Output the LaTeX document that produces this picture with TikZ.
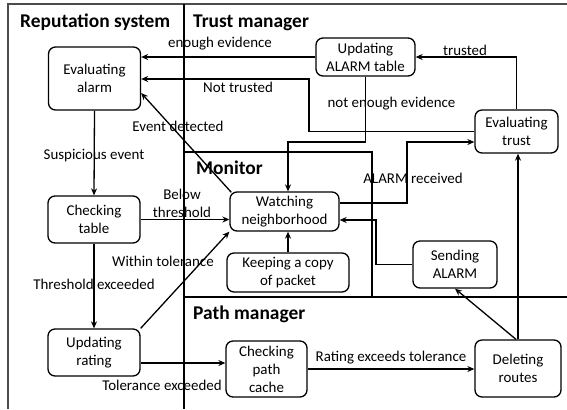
\documentclass[tikz,border=0pt]{standalone}
\usepackage{fontspec}
\setmainfont{Carlito}
\usetikzlibrary{arrows.meta,calc}
\begin{document}
\begin{tikzpicture}[x=1bp,y=-1bp,
  box/.style={draw,rounded corners=7bp,line width=1.3bp,inner sep=0pt,align=center,
    font=\fontsize{15}{18}\selectfont},
  lab/.style={inner sep=0pt,font=\fontsize{15}{18}\selectfont},
  ttl/.style={inner sep=0pt,font=\fontsize{19.5}{22}\selectfont\bfseries,anchor=base west},
  arr/.style={line width=1.3bp,-{Stealth[length=7bp,width=6bp]}},
  frame/.style={line width=1.3bp}]
\useasboundingbox (0,0) rectangle (567,409);
% frame
\draw[frame,black!70] (8,409) -- (8,4) -- (567,4);
\draw[frame] (184,4) -- (184,409);
\draw[frame] (184,152) -- (372,152) -- (372,297);
\draw[frame] (184,297) -- (567,297);
% titles
\node[ttl] (t1) at (20,27) {Reputation system};
\node[ttl] (t2) at (193,27) {Trust manager};
\node[ttl] (t3) at (196,174) {Monitor};
\node[ttl] (t4) at (193,319) {Path manager};
% nodes
\node[box,minimum width=92bp,minimum height=63bp] (evalarm) at (94.5,78.5) {Evaluating\\alarm};
\node[box,minimum width=92bp,minimum height=47bp] (chktable) at (94,219.5) {Checking\\table};
\node[box,minimum width=92bp,minimum height=47bp] (updrating) at (94,352.5) {Updating\\rating};
\node[box,minimum width=81bp,minimum height=56bp] (chkpath) at (266.5,369) {Checking\\path\\cache};
\node[box,minimum width=109bp,minimum height=39bp] (watching) at (284.5,211.5) {Watching\\neighborhood};
\node[box,minimum width=122bp,minimum height=39bp] (keeping) at (288,272.5) {Keeping a copy\\of packet};
\node[box,minimum width=99bp,minimum height=38bp] (updalarm) at (365.5,57) {Updating\\ALARM table};
\node[box,minimum width=83bp,minimum height=43bp] (evtrust) at (516.5,131.5) {Evaluating\\trust};
\node[box,minimum width=84bp,minimum height=47bp] (sendalarm) at (455,264.5) {Sending\\ALARM};
\node[box,minimum width=86bp,minimum height=57bp] (delroutes) at (518,368.5) {Deleting\\routes};
% elbow coordinates
\coordinate (nt1) at (309,131.5);
\coordinate (nt2) at (309,79);
\coordinate (ne1) at (365.5,142);
\coordinate (ne2) at (288,142);
\coordinate (ar0) at (339,203);
\coordinate (ar1) at (407,203);
\coordinate (ar2) at (407,142);
\coordinate (sa1) at (376,264.5);
\coordinate (sa2) at (376,220);
\coordinate (tol) at (140,363);
% connectors
\draw[arr] (updalarm.west) -- (evalarm.east |- updalarm.west);
\draw[arr] (evtrust.west) -- (nt1) -- (nt2) -- (evalarm.east |- nt2);
\draw[arr] (updalarm.south) -- (ne1) -- (ne2) -- (watching.north -| ne2);
\draw[arr] (evtrust.north) -- (evtrust.north |- updalarm.east) -- (updalarm.east);
\draw[arr] (watching.east |- ar0) -- (ar1) -- (ar2) -- (evtrust.west |- ar2);
\draw[arr] (sendalarm.west) -- (sa1) -- (sa2) -- (watching.east |- sa2);
\draw[arr] (delroutes.north) -- (delroutes.north |- evtrust.south);
\draw[arr] ($(delroutes.north)+(-2,0)$) -- (sendalarm.south);
\draw[arr] ($(watching.north west)+(2,1)$) -- ($(evalarm.east)+(0,14.5)$);
\draw[arr] (evalarm.south) -- (chktable.north);
\draw[arr] (chktable.east) -- (chktable.east -| watching.west);
\draw[arr] (chktable.south) -- (updrating.north);
\draw[arr] (updrating.north east) -- (watching.south west);
\draw[arr] (keeping.north) -- (watching.south -| keeping.north);
\draw[arr] (updrating.east |- tol) -- (chkpath.west |- tol);
\draw[arr] (chkpath.east) -- (chkpath.east -| delroutes.west);
% labels
\node[lab,anchor=base] (l1) at (220,47) {enough evidence};
\node[lab,anchor=base] (l2) at (238,92) {Not trusted};
\node[lab,anchor=base] (l3) at (178,131) {Event detected};
\node[lab,anchor=base] (l4) at (94,159) {Suspicious event};
\node[lab,align=center] (l5) at (182,203) {Below\\threshold};
\node[lab,anchor=base] (l6) at (94,289) {Threshold exceeded};
\node[lab,anchor=base] (l7) at (163,266) {Within tolerance};
\node[lab,anchor=base] (l8) at (162,390) {Tolerance exceeded};
\node[lab,anchor=base] (l9) at (391,361) {Rating exceeds tolerance};
\node[lab,anchor=base] (l10) at (413,183) {ALARM received};
\node[lab,anchor=base] (l11) at (391.5,107) {not enough evidence};
\node[lab,anchor=base] (l12) at (465,55) {trusted};
\end{tikzpicture}
\end{document}
